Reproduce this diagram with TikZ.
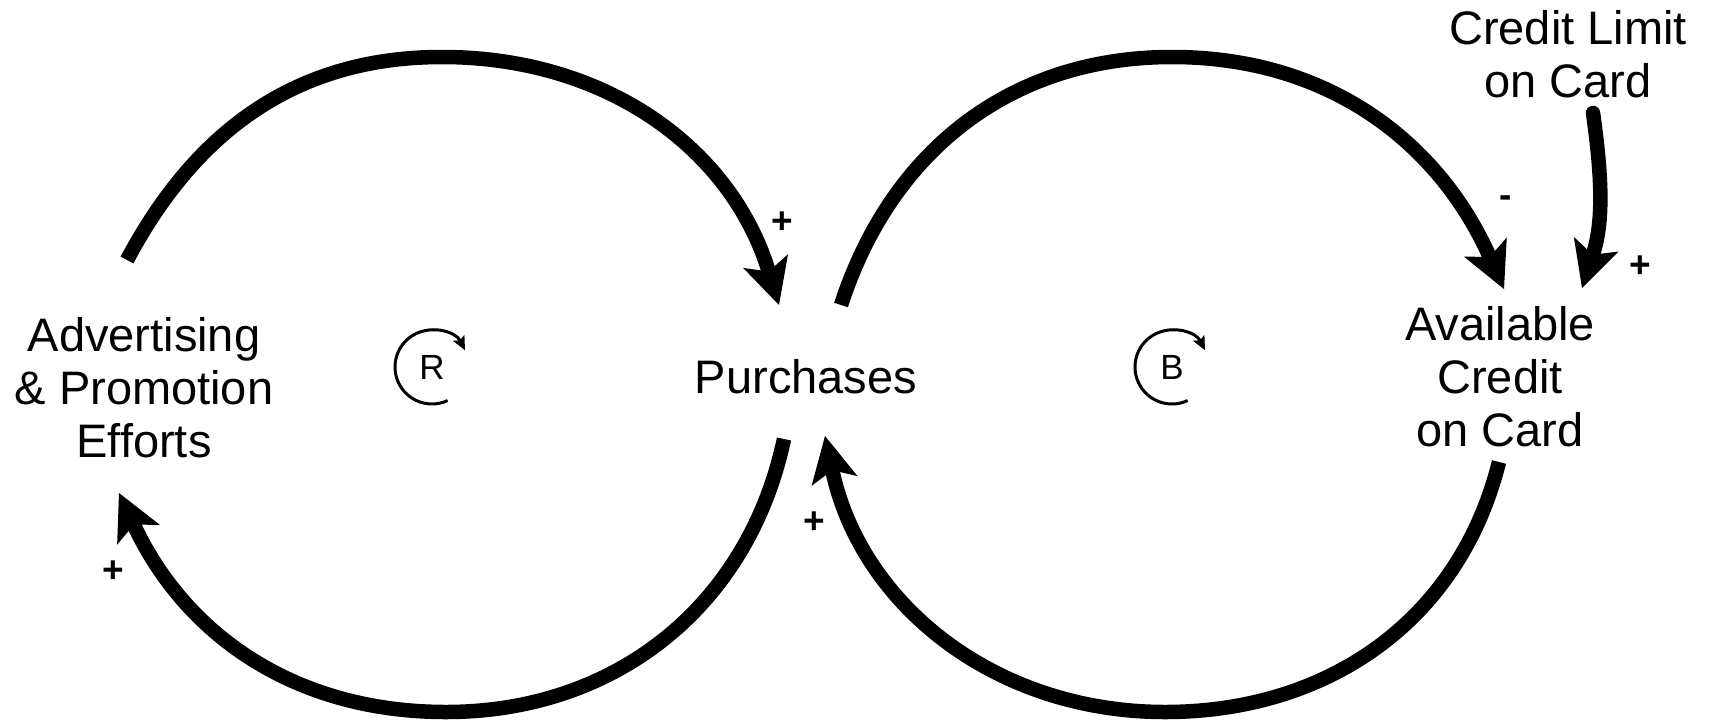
\documentclass[tikz,border=0pt]{standalone}
\usepackage{fontspec}
\setmainfont{Liberation Sans}
\usetikzlibrary{arrows.meta}
\begin{document}
\begin{tikzpicture}[x=1pt,y=1pt,
  lbl/.style={font=\fontsize{47}{53}\selectfont, align=center, inner sep=0pt},
  sgn/.style={font=\fontsize{37}{37}\selectfont\bfseries, inner sep=0pt},
  link/.style={line width=14.5pt, -{Stealth[length=46pt,width=47pt,inset=11pt,line width=0pt]}},
  loopsym/.style={line width=3pt, -{Stealth[length=14pt,width=13pt,inset=3pt,line width=0pt]}},
  loopltr/.style={font=\fontsize{35}{35}\selectfont, inner sep=0pt}]
\useasboundingbox (0,0) rectangle (1709,-721);

% variables
\node[lbl] (adv) at (144,-388) {Advertising\\\& Promotion\\Efforts};
\node[lbl] (pur) at (806,-377) {Purchases};
\node[lbl] (avail) at (1500,-377) {Available\\Credit\\on Card};
\node[lbl] (limit) at (1568,-54) {Credit Limit\\on Card};

% connector end points
\coordinate (a1) at (127,-260); \coordinate (pA) at (442,-57); \coordinate (a2) at (779,-305);
\coordinate (b1) at (784,-439); \coordinate (pB) at (446,-712); \coordinate (b2) at (119,-493);
\coordinate (c1) at (841,-305); \coordinate (pC) at (1172,-57); \coordinate (c2) at (1504,-289);
\coordinate (d1) at (1499,-462); \coordinate (pD) at (1165,-712); \coordinate (d2) at (825,-436);
\coordinate (e1) at (1593,-113); \coordinate (e2) at (1582,-288);

% links
\draw[link] (a1) to[out=62,in=180] (pA) to[out=0,in=107] (a2);
\draw[link] (b1) to[out=-102,in=0] (pB) to[out=180,in=-65] (b2);
\draw[link] (c1) to[out=72,in=180] (pC) to[out=0,in=114] (c2);
\draw[link] (d1) to[out=-104,in=0] (pD) to[out=180,in=-78] (d2);
\draw[link, line cap=round] (e1) to[out=-82,in=72] (e2);

% polarities
\node[sgn] (s1) at (782,-223) {+};
\node[sgn] (s2) at (113,-572) {+};
\node[sgn] (s3) at (814,-523) {+};
\node[sgn] (s4) at (1506,-202) {-};
\node[sgn] (s5) at (1640,-267) {+};

% loop symbols
\node[loopltr] (R) at (432,-367) {R};
\draw[loopsym] ([shift={(295:37)}]R.center) arc[start angle=295,end angle=27,radius=37];
\node[loopltr] (B) at (1172,-367) {B};
\draw[loopsym] ([shift={(295:37)}]B.center) arc[start angle=295,end angle=27,radius=37];
\end{tikzpicture}
\end{document}
